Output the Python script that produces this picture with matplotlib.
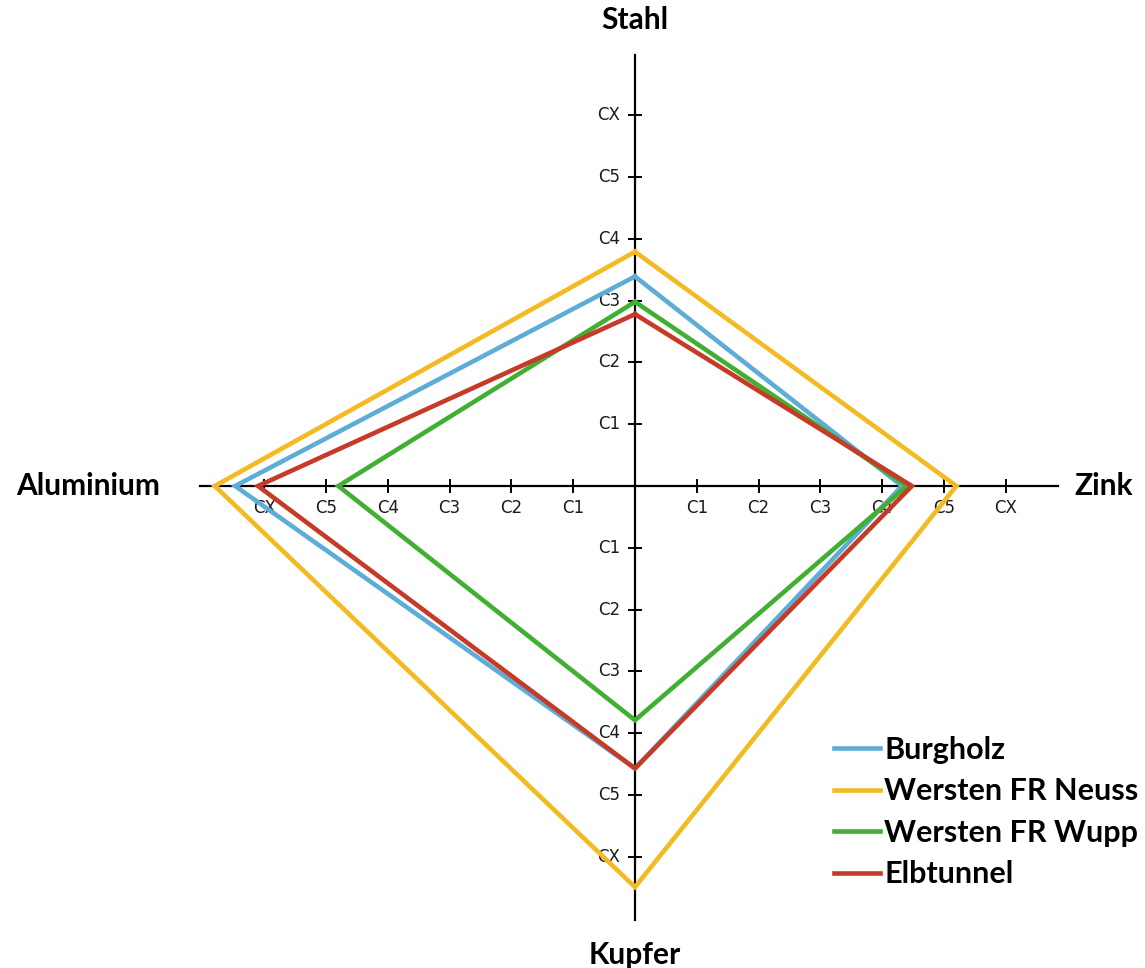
import matplotlib
matplotlib.use("Agg")
import matplotlib.pyplot as plt
from matplotlib.lines import Line2D
import numpy as np

# ---- data ----
axes_names = ["Stahl", "Zink", "Kupfer", "Aluminium"]
tick_labels = ["C1", "C2", "C3", "C4", "C5", "CX"]
series_names = ["Burgholz", "Wersten FR Neuss", "Wersten FR Wupp", "Elbtunnel"]
burgholz = [3.39, 4.32, 4.57, 6.47]
wersten_neuss = [3.79, 5.20, 6.49, 6.80]
wersten_wupp = [2.98, 4.40, 3.79, 4.80]
elbtunnel = [2.78, 4.48, 4.57, 6.10]
colors = ["#5DADD6", "#F3BA22", "#41AF31", "#C63A28"]

W, H = 1145, 968
unit = 61.8
cx, cy = 635, 486

fig = plt.figure(figsize=(W / 100, H / 100), dpi=100)
ax = fig.add_axes([0, 0, 1, 1])
ax.set_xlim(-cx / unit, (W - cx) / unit)
ax.set_ylim(-(H - cy) / unit, cy / unit)
ax.axis("off")

# axis directions: Stahl up, Zink right, Kupfer down, Aluminium left
dirs = [(0, 1), (1, 0), (0, -1), (-1, 0)]
ext = [6.97, 6.85, 7.02, 7.04]

tick_font = dict(family="DejaVu Sans", fontsize=12, color="#1a1a1a")
for (dx, dy), e in zip(dirs, ext):
    ax.plot([0, dx * e], [0, dy * e], color="black", lw=1.6, zorder=1)
    for i, lab in enumerate(tick_labels, start=1):
        px, py = dx * i, dy * i
        t = 0.09
        if dx == 0:
            ax.plot([px - t, px + t], [py, py], color="black", lw=1.4, zorder=1)
            ax.text(px - 0.24, py, lab, ha="right", va="center", **tick_font)
        else:
            ax.plot([px, px], [py - t, py + t], color="black", lw=1.4, zorder=1)
            ax.text(px, py - 0.36, lab, ha="center", va="center", **tick_font)

# category labels
lab_font = dict(family="Lato", fontweight="bold", fontsize=21.5, color="black")
ax.text(0, (cy - 20) / unit, axes_names[0], ha="center", va="center", **lab_font)
ax.text((1104 - cx) / unit, 0, axes_names[1], ha="center", va="center", **lab_font)
ax.text(0, -(955 - cy) / unit, axes_names[2], ha="center", va="center", **lab_font)
ax.text((88 - cx) / unit, 0, axes_names[3], ha="center", va="center", **lab_font)

# series
all_series = [burgholz, wersten_neuss, wersten_wupp, elbtunnel]
handles = []
for name, vals, col in zip(series_names, all_series, colors):
    xs = [d[0] * v for d, v in zip(dirs, vals)]
    ys = [d[1] * v for d, v in zip(dirs, vals)]
    xs.append(xs[0]); ys.append(ys[0])
    ax.plot(xs, ys, color=col, lw=3.3, solid_joinstyle="miter", zorder=3)
    handles.append(Line2D([], [], color=col, lw=3.3, label=name))

leg = ax.legend(handles=handles, loc="upper left",
                bbox_to_anchor=(834 / W, 1 - 736 / H), frameon=False,
                prop=dict(family="Lato", weight="bold", size=22),
                handlelength=1.5, handletextpad=0.15, labelspacing=0.44,
                borderpad=0, borderaxespad=0)

fig.savefig("out.png", dpi=100)
